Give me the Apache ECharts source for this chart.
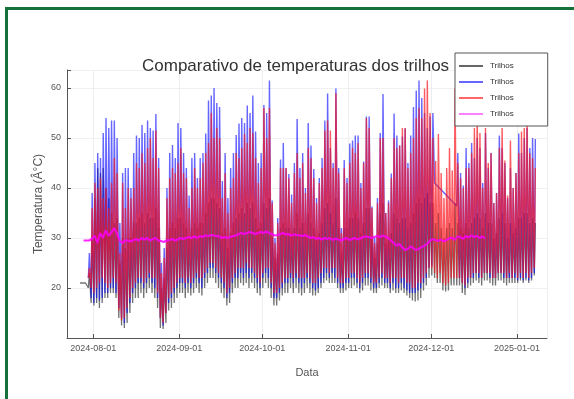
<!DOCTYPE html>
<html>
<head>
<meta charset="utf-8">
<script src="https://cdn.jsdelivr.net/npm/echarts@6/dist/echarts.min.js"></script>
<style>
  body { margin: 0; background: #fff; }
  #frame { position: absolute; left: 5px; top: 7px; width: 580px; height: 400px;
           border-top: 3px solid #16703a; border-left: 3px solid #16703a; }
  #chart { position: absolute; left: 0; top: 0; width: 574px; height: 399px; }
</style>
</head>
<body>
<div id="frame"></div>
<div id="chart"></div>
<script>
// one entry per day, starting 2024-07-27; "lo" = night minimum, "hi" = afternoon peak
var startDay = [2024, 6, 27];
var tickLabels = ['2024-08-01', '2024-09-01', '2024-10-01', '2024-11-01', '2024-12-01', '2025-01-01'];
var seriesNames = ['Trilhos 1', 'Trilhos 2', 'Trilhos 3', 'Trilhos 4'];

var blackLo = [21,21,21,20,17,16.5,17,16,17,18,
  18,19,19,18,14,12.5,12,13,15,17,
  18,18,19,18,19,20,19,18,16,12,
  11.8,13,15.5,16,17,18,19,19,18,19,
  18.5,19,20,19,18.5,20,21,22,22,21,
  20,19,18,16.5,17,19,20,20,21,20.5,
  21,20,21,20,19,18.5,20,21,20,18,
  16.5,16.5,17.5,18.5,19,19,20,19,20,19,
  18.5,19,20,19,18.5,18.5,19,20,21,21.5,
  21,21,21,20,19,19,19.5,20,20,20.5,
  20,19,19.5,20.5,20.5,19.5,19,19,20,20.5,
  20,20,19,19.5,19,19,19.5,19,18.5,18,
  17.5,17.3,17.5,18,19.5,20.5,22,22.5,22,21,
  21,19.5,19.3,19.5,20.5,20.5,20.5,20.5,19,18.6,
  20,20.5,21,21.5,21,20.5,21.5,21.5,21,20.5,
  20.5,21.5,21.5,21,20.5,21,21,21,21,21.5,
  21,21.5,21,21.5,22.5];
var blackHi = [21,21,21,23,30,38,44,43,44,40,
  38,35,33,34,25,30,28,30,30,33,
  33,34,35,33,35,34,34,36,32,20,
  22,28,32,33,32,34,34,33,32,30,
  32,33,32,33,33,35,37,38,38,37,
  36,31,32,28,31,33,34,35,36,35,
  37,36,37,34,32,33,37,36,38,30,
  26,27,32,33,32,32,31,32,35,32,
  33,31,35,33,32,30,31,33,36,37,
  35,33,38,32,27,32,32,34,34,35,
  34,31,33,36,36,30,26,29,35,37,
  29,30,31,35,34,33,34,34,32,33,
  35,37,38,37,38,39,37,37,33,35,
  32,30,32,33,32,37,33,32,31,33,
  32,33,34,35,34,32,35,33,33,30,
  31,34,35,33,30,33,31,32,34,34,
  35,35,33,34,33];
var blueLo = [null,null,null,22,18,17,18,17.5,18,19,
  19,20,20,19,16,14,13,15,17,19,
  20,21,21,20,21,22,21,20,18,14,
  12.5,15,17,18,19,20,21,21,20,21,
  20,21,22,21,20,22,23,24,24,23,
  22,21,20,18,19,21,22,22,23,22,
  23,22,23,22,21,20,22,23,22,20,
  18,18,19,20,21,21,22,21,22,21,
  20,21,22,21,20,19.5,20,21,22,23,
  22,23,22,21,20,20,21,21,22,22,
  21,20,21,22,22,21,20,20,21,22,
  21,21,20,21,20,20,21,20,19.5,19,
  19,19,19.5,20,21,22,24,24.5,41,null,
  null,null,null,null,null,null,36.4,22,21,20,
  21,22,22,23,22,22,23,23,22,22,
  22,23,23,22,22,22,22,22,21.5,22,
  21.5,22,21.5,22,23];
var blueHi = [null,null,null,27,39,45,47,46,51,54,
  52,53.5,53.5,50,33,43,44,44,40,47,
  50.5,50,52.6,51,53.5,52,51.5,54.8,46,25,
  28,40,47,48.6,46,53,52,47,44,38.5,
  46,47,42,46,47,50.9,57.5,58.5,60,57,
  56.2,41.4,47,38,44,47,50.6,52.9,54,53,
  56.5,55,58.5,51.3,45,47,56.6,55,61.5,37.5,
  30,34,45.7,49,44,42.8,38.7,45,53.8,44,
  47,40,53,48.5,43.8,38,42,46,53.5,58.9,
  48,45,59.9,44,32,45.6,42,48.9,49.5,50.5,
  50.5,41,45.3,54.3,54.3,36.3,30,38,51,58.8,
  35,37.5,42.9,54.9,50.5,48.5,50.3,51.9,45,50.5,
  56.2,59.5,61.5,58,55,52,54.3,55,null,null,
  null,null,null,null,null,null,47,43,40.5,48,
  45,49,46,50,48,41,51,44,47,37,
  39,50.5,48,45,38,44,40,43,50.9,47,
  50,52,48,50,49.8];
var redLo = [null,null,null,22,20,19,20,21,22,21,
  20,21,22,21,15.5,13.5,14,16,18,20,
  21,22,22,21,22,23,22,22,19,14,
  13,15,18,19,20,21,22,22,21,22,
  21,22,23,22,22,23,24,25,25,24,
  23,22,21,19,20,22,23,24,24,24,
  25,24,24,23,22,21,23,24,24,21,
  19,19,20,21,22,22,23,22,23,22,
  22,22,23,22,21,21,22,23,24,24,
  23,24,24,22,21,21,22,22,23,23,
  22,21,22,23,23,22,21,21,22,23,
  22,22,21,22,22,21,22,22,21,21,
  20,20,21,21,22,23,24,24,23,22,
  23,21,20.5,21,22,22,22,22,21,20.5,
  22,22,23,23,23,22,23,23,23,22,
  22,23,23,23,22,23,22,23,22,23,
  22,23,22,23,24];
var redHi = [null,null,null,24,36,41,40,42,38,40,
  36,41,46,43,27,41,36,40,38,40,
  45,44,47,45,48,50,46,51.5,44,23,
  26,38,42,44,43,45,48,43,42,36,
  40,44,40,42,45,47,49,55,50,52,
  50,38,43,35,40,42,47,46,48,50.8,
  49,52,51,46,41,44,56,50,56,37,
  29,33,44,44,44,42,37,43,47,42,
  45,39,48,46,42,37,41,44,51.5,53.5,
  51.5,44,59,43,31,44,41,45,48,47,
  49,40,45,54,52,36,29,37,50,50,
  35,37,42,50,48,48.5,52,52,44,47,
  50,54,56,54,59.9,61.5,55,50,45.4,50.8,
  43,38,44,48,43.5,59.9,45,42,40,44,
  44,47,52,55,51,40,52,45,47,37,
  39,48,52,45.5,38.5,49.5,40,43,47,51.3,
  52,54,47,46,44];
var magentaDaily = [null,29.5,29.5,29.5,29.8,30.5,29,31,30,31.5,
  30.5,31,32,31,29.5,29,29.5,29.5,29.3,29.6,
  29.8,29.5,30,29.7,30,29.5,29.8,30,29.5,29.4,
  29.2,29.5,29.6,29.8,29.5,29.7,30,29.8,30,30.2,
  30,30.3,30,30.4,30.2,30.5,30.4,30.6,30.5,30.4,
  30.3,30,30.2,30,30.2,30.4,30.5,30.8,31,30.8,
  31,31.2,31,30.8,31,31.2,31,31.3,31,30.8,
  30.5,30.6,30.8,31,30.7,30.8,30.5,30.7,30.6,30.5,
  30.4,30.6,30.3,30,30.2,29.8,30,29.7,30,29.8,
  30,29.6,29.9,29.7,29.5,29.8,30,29.6,29.8,30,
  29.7,29.9,30.2,30.3,30.2,30,30.2,30.4,30.2,30.5,
  30.3,30,29.5,29,28.5,28.8,28.2,27.6,27.8,28.3,
  28,27.6,27.8,28.2,28.4,28.8,29.4,29.8,29.6,29.4,
  29.7,29.3,29.6,29.9,30.1,29.6,30.3,30.2,29.8,30.4,
  30.1,30.5,30.2,30.4,30,30.3,29.9];

function dayTime(i, hour) {
  return new Date(startDay[0], startDay[1], startDay[2] + i, hour).getTime();
}
function labelTime(s) {
  var p = s.split('-');
  return new Date(+p[0], +p[1] - 1, +p[2]).getTime();
}
function loHi(lo, hi) {
  var out = [];
  for (var i = 0; i < lo.length; i++) {
    if (lo[i] != null) out.push([dayTime(i, 5), lo[i]]);
    if (hi[i] != null) out.push([dayTime(i, 14), hi[i]]);
  }
  return out;
}
function daily(vals) {
  var out = [];
  for (var i = 0; i < vals.length; i++) {
    if (vals[i] != null) out.push([dayTime(i, 11), vals[i]]);
  }
  return out;
}

var tickValues = tickLabels.map(labelTime);
var axisColor = '#555';
var DAY = 86400000;

var chart = echarts.init(document.getElementById('chart'));
chart.setOption({
  animation: false,
  title: {
    text: 'Comparativo de temperaturas dos trilhos',
    left: 137,
    top: 53,
    textStyle: { fontFamily: 'Liberation Sans', fontSize: 17, fontWeight: 'normal', color: '#333' }
  },
  legend: {
    left: 455,
    top: 53,
    orient: 'vertical',
    padding: [8, 34, 7, 4],
    itemGap: 6,
    itemWidth: 24,
    itemHeight: 2,
    icon: 'rect',
    backgroundColor: '#fff',
    borderColor: '#555',
    borderWidth: 1,
    borderRadius: 0,
    data: seriesNames,
    formatter: function () { return 'Trilhos'; },
    textStyle: { fontFamily: 'Liberation Sans', fontSize: 8, color: '#333', lineHeight: 10, padding: [0, 0, 0, 2] }
  },
  grid: { left: 67, right: 27, top: 70, bottom: 61 },
  xAxis: {
    type: 'time',
    min: new Date(2024, 6, 22, 12).getTime(),
    max: new Date(2025, 0, 11, 19).getTime(),
    minInterval: 28 * DAY,
    maxInterval: 31 * DAY,
    name: 'Data',
    nameLocation: 'middle',
    nameGap: 29,
    nameTextStyle: { fontFamily: 'Liberation Sans', fontSize: 11, color: axisColor },
    axisLine: { lineStyle: { color: axisColor, width: 1 } },
    axisTick: { inside: true, length: 4, lineStyle: { color: axisColor } },
    axisLabel: {
      margin: 6,
      fontFamily: 'Liberation Sans', fontSize: 9, color: axisColor,
      formatter: function (v) {
        var k = tickValues.indexOf(v);
        return k >= 0 ? tickLabels[k] : '';
      }
    },
    splitLine: { show: true, lineStyle: { color: '#eeeeee' } }
  },
  yAxis: {
    type: 'value',
    min: 10,
    max: 63.6,
    interval: 10,
    name: 'Temperatura (Â°C)',
    nameLocation: 'middle',
    nameGap: 22,
    nameMoveOverlap: false,
    nameTextStyle: { fontFamily: 'Liberation Sans', fontSize: 12, color: axisColor },
    axisLine: { show: true, lineStyle: { color: axisColor, width: 1 } },
    axisTick: { show: true, inside: true, length: 4, lineStyle: { color: axisColor } },
    axisLabel: {
      margin: 6,
      fontFamily: 'Liberation Sans', fontSize: 9, color: axisColor,
      formatter: function (v) { return (v === 10 || v % 10 !== 0) ? '' : String(v); }
    },
    splitLine: { lineStyle: { color: '#f0f0f0' } }
  },
  series: [
    {
      name: seriesNames[0], type: 'line', symbol: 'none',
      data: loHi(blackLo, blackHi),
      color: 'rgba(0,0,0,0.6)',
      lineStyle: { width: 1.3, color: 'rgba(0,0,0,0.55)' }
    },
    {
      name: seriesNames[1], type: 'line', symbol: 'none',
      data: loHi(blueLo, blueHi),
      color: 'rgba(0,0,255,0.6)',
      lineStyle: { width: 1.4, color: 'rgba(0,0,255,0.6)' }
    },
    {
      name: seriesNames[2], type: 'line', symbol: 'none',
      data: loHi(redLo, redHi),
      color: 'rgba(255,0,0,0.6)',
      lineStyle: { width: 1.4, color: 'rgba(250,20,30,0.7)' }
    },
    {
      name: seriesNames[3], type: 'line', symbol: 'none',
      data: daily(magentaDaily),
      color: 'rgba(255,0,255,0.5)',
      lineStyle: { width: 2, color: 'rgba(255,0,255,0.85)' }
    }
  ]
});
</script>
</body>
</html>
